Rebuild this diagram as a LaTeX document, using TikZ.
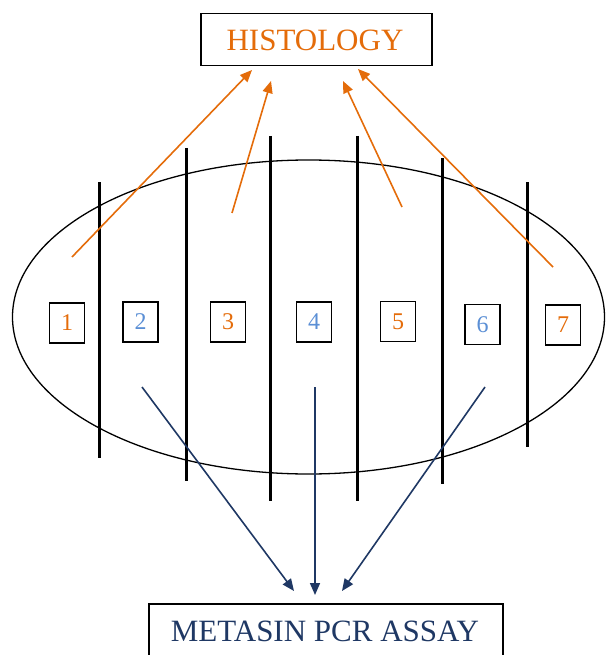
\documentclass[tikz,border=0pt]{standalone}
\usepackage{fontspec}
\setmainfont{Liberation Serif}
\usetikzlibrary{arrows.meta,shapes.geometric}
\definecolor{orng}{HTML}{E46C0A}
\definecolor{lblue}{HTML}{5B8FD5}
\definecolor{navy}{HTML}{1F3864}
\tikzset{
  titlebox/.style={draw=black, line width=1.5pt, inner sep=0pt, anchor=north west},
  numbox/.style={draw=black, line width=1.3pt, minimum width=35pt, minimum height=40pt, inner sep=0pt, font=\fontsize{24}{26}\selectfont},
  divider/.style={line width=3pt},
  harrow/.style={orng, line width=1.6pt, -{Triangle[length=12pt,width=10pt]}},
  parrow/.style={navy, line width=1.6pt, -{Triangle[length=12pt,width=10pt]}}
}
\begin{document}
\begin{tikzpicture}[x=1pt,y=-1pt]
\useasboundingbox (0,0) rectangle (605,655);
\clip (0,0) rectangle (605,655);
% title boxes
\node[titlebox, minimum width=231pt, minimum height=52pt] (hist) at (200,13) {};
\node[orng, font=\fontsize{31}{33}\selectfont] (histtxt) at (315,40) {HISTOLOGY};
\node[titlebox, minimum width=354pt, minimum height=70pt] (pcr) at (148,603) {};
\node[navy, font=\fontsize{31}{33}\selectfont] (pcrtxt) at (325,631) {METASIN PCR ASSAY};
% ellipse
\node[draw=black, line width=1.3pt, ellipse, inner sep=0pt, minimum width=592pt, minimum height=314pt] (ell) at (308.5,317) {};
% dividers
\draw[divider] (99,182) -- (99,458);
\draw[divider] (186,148) -- (186,481);
\draw[divider] (270,136) -- (270,501);
\draw[divider] (357,136) -- (357,501);
\draw[divider] (442,158) -- (442,484);
\draw[divider] (527,182) -- (527,447);
% number boxes
\node[numbox, text=orng] (n1) at (67,323) {1};
\node[numbox, text=lblue] (n2) at (140.5,322) {2};
\node[numbox, text=orng] (n3) at (228,322) {3};
\node[numbox, text=lblue] (n4) at (314,322) {4};
\node[numbox, text=orng] (n5) at (398,321.5) {5};
\node[numbox, text=lblue] (n6) at (482.5,324.5) {6};
\node[numbox, text=orng] (n7) at (563,325) {7};
% arrow coordinates
\coordinate (h1s) at (72,257);  \coordinate (h1e) at (252,70);
\coordinate (h2s) at (232,213); \coordinate (h2e) at (271,81);
\coordinate (h3s) at (402,207); \coordinate (h3e) at (343,81);
\coordinate (h4s) at (553,267); \coordinate (h4e) at (358,69);
\coordinate (p1s) at (142,387); \coordinate (p1e) at (294,591);
\coordinate (p2s) at (315,387); \coordinate (p2e) at (315,595);
\coordinate (p3s) at (485,387); \coordinate (p3e) at (342,591);
\draw[harrow] (h1s) -- (h1e);
\draw[harrow] (h2s) -- (h2e);
\draw[harrow] (h3s) -- (h3e);
\draw[harrow] (h4s) -- (h4e);
\draw[parrow] (p1s) -- (p1e);
\draw[parrow] (p2s) -- (p2e);
\draw[parrow] (p3s) -- (p3e);
\end{tikzpicture}
\end{document}
